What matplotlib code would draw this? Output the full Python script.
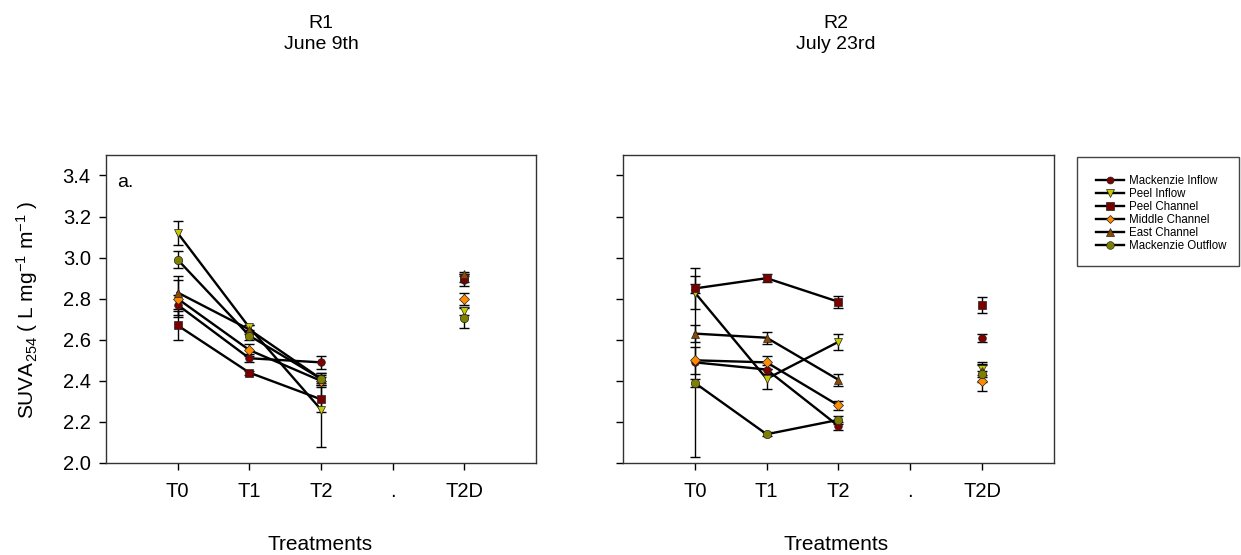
import numpy as np
import matplotlib
matplotlib.use('Agg')
import matplotlib.pyplot as plt
from matplotlib.lines import Line2D
from matplotlib.patches import Rectangle

plt.rcParams.update({
    'font.family': ['Liberation Sans', 'DejaVu Sans'],
    'mathtext.fontset': 'custom',
    'mathtext.rm': 'Liberation Sans',
    'mathtext.it': 'Liberation Sans',
    'font.size': 14,
    'axes.edgecolor': '#333333',
    'axes.linewidth': 1.0,
})

# categories (the '.' slot is an empty spacer between T2 and T2D)
treatments = ['T0', 'T1', 'T2', '.', 'T2D']
sites = ['Mackenzie Inflow', 'Peel Inflow', 'Peel Channel',
         'Middle Channel', 'East Channel', 'Mackenzie Outflow']
legend_labels = ['Mackenzie Inflow', 'Peel Inflow', 'Peel Channel',
                 'Middle Channel', 'East Channel', 'Mackenzie Outflow']
colors = ['#800000', '#c8c800', '#7a0000', '#ff8c00', '#8b4a00', '#808000']
markers = ['o', 'v', 's', 'D', '^', 'o']
msizes = [5.5, 6, 6, 5, 6, 6]
nan = np.nan

# R1 - June 9th
r1_mi = [2.77, 2.51, 2.49, nan, 2.89]
r1_pi = [3.12, 2.66, 2.26, nan, 2.74]
r1_pc = [2.67, 2.44, 2.31, nan, 2.90]
r1_mc = [2.80, 2.55, 2.40, nan, 2.80]
r1_ec = [2.83, 2.65, 2.41, nan, 2.92]
r1_mo = [2.99, 2.62, 2.41, nan, 2.705]
r1_mi_err = [0.05, 0.02, 0.03, nan, 0.03]
r1_pi_err = [0.06, 0.01, 0.18, nan, 0.02]
r1_pc_err = [0.07, 0.01, 0.06, nan, 0.02]
r1_mc_err = [0.09, 0.03, 0.02, nan, 0.03]
r1_ec_err = [0.08, 0.02, 0.02, nan, 0.01]
r1_mo_err = [0.04, 0.02, 0.03, nan, 0.05]

# R2 - July 23rd
r2_mi = [2.49, 2.455, 2.18, nan, 2.61]
r2_pi = [2.83, 2.41, 2.59, nan, 2.46]
r2_pc = [2.85, 2.90, 2.785, nan, 2.77]
r2_mc = [2.50, 2.49, 2.28, nan, 2.40]
r2_ec = [2.63, 2.61, 2.405, nan, 2.45]
r2_mo = [2.39, 2.14, 2.21, nan, 2.435]
r2_mi_err = [0.46, 0.02, 0.02, nan, 0.02]
r2_pi_err = [0.08, 0.05, 0.04, nan, 0.03]
r2_pc_err = [0.02, 0.02, 0.03, nan, 0.04]
r2_mc_err = [0.065, 0.03, 0.02, nan, 0.05]
r2_ec_err = [0.04, 0.03, 0.03, nan, 0.03]
r2_mo_err = [0.02, 0.01, 0.02, nan, 0.04]

r1_vals = [r1_mi, r1_pi, r1_pc, r1_mc, r1_ec, r1_mo]
r1_errs = [r1_mi_err, r1_pi_err, r1_pc_err, r1_mc_err, r1_ec_err, r1_mo_err]
r2_vals = [r2_mi, r2_pi, r2_pc, r2_mc, r2_ec, r2_mo]
r2_errs = [r2_mi_err, r2_pi_err, r2_pc_err, r2_mc_err, r2_ec_err, r2_mo_err]

fig = plt.figure(figsize=(12.41, 5.55), dpi=100)
ax1 = fig.add_axes([0.0854, 0.1658, 0.3465, 0.555])
ax2 = fig.add_axes([0.502, 0.1658, 0.3473, 0.555])

x = np.arange(1, len(treatments) + 1)

for ax, vals, errs in [(ax1, r1_vals, r1_errs), (ax2, r2_vals, r2_errs)]:
    for i in range(len(sites)):
        y = np.array(vals[i], dtype=float)
        e = np.array(errs[i], dtype=float)
        ax.errorbar(x, y, yerr=e, fmt='none', ecolor='black', elinewidth=1.0,
                    capsize=3.5, capthick=1.0, zorder=2)
        ax.plot(x, y, '-', color='black', lw=1.7, zorder=3)
        ax.plot(x, y, linestyle='none', marker=markers[i], ms=msizes[i],
                mfc=colors[i], mec='#222222', mew=0.5, zorder=4)
    ax.set_xlim(0, 6)
    ax.set_ylim(2.0, 3.5)
    ax.set_xticks(x)
    ax.set_xticklabels(treatments)
    ax.set_yticks(np.arange(2.0, 3.41, 0.2))
    ax.tick_params(direction='out', length=5, width=1, top=False, right=False,
                   labelsize=14.5)
    ax.tick_params(axis='x', pad=9)
    ax.tick_params(axis='y', pad=6)
    ax.yaxis.set_major_formatter(matplotlib.ticker.FormatStrFormatter('%.1f'))

ax2.set_yticklabels([])
ax1.text(0.026, 0.912, 'a.', transform=ax1.transAxes, fontsize=14,
         ha='left', va='center')

fig.text(321 / 1241, 1 - 34 / 555, 'R1\nJune 9th', ha='center', va='center',
         fontsize=14, linespacing=1.35)
fig.text(836 / 1241, 1 - 34 / 555, 'R2\nJuly 23rd', ha='center', va='center',
         fontsize=14, linespacing=1.35)
fig.text(320 / 1241, 1 - 545 / 555, 'Treatments', ha='center', va='center',
         fontsize=15)
fig.text(836 / 1241, 1 - 545 / 555, 'Treatments', ha='center', va='center',
         fontsize=15)
fig.text(27 / 1241, 1 - 310 / 555,
         r'SUVA$_{254}$ ( L mg$^{-1}$ m$^{-1}$ )', rotation=90,
         ha='center', va='center', fontsize=15)

# legend
handles = [Line2D([0], [0], color='black', lw=1.7, marker=markers[i],
                  ms=msizes[i] - 0.5, mfc=colors[i], mec='#222222', mew=0.5)
           for i in range(len(sites))]
fig.legend(handles, legend_labels, loc='upper left',
           bbox_to_anchor=(1096 / 1241, 1 - 175 / 555), frameon=False,
           fontsize=8.3, labelspacing=0.08, handlelength=2.4,
           handletextpad=0.45, borderpad=0, borderaxespad=0)
fig.add_artist(Rectangle((1077 / 1241, 1 - 266 / 555), 162 / 1241, 109 / 555,
                         transform=fig.transFigure, fill=False,
                         edgecolor='#444444', lw=1.0))

fig.savefig('out.png', dpi=100)
